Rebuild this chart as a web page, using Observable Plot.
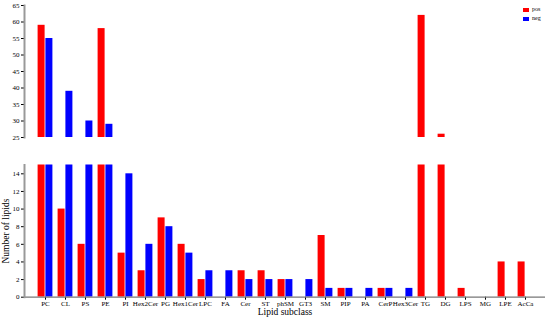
<!DOCTYPE html>
<html><head><meta charset="utf-8">
<script src="https://cdn.jsdelivr.net/npm/d3@7"></script>
<script src="https://cdn.jsdelivr.net/npm/@observablehq/plot@0.6"></script>
<style>
body{margin:0;background:#fff;font-family:"Liberation Serif","Times New Roman",serif;}
#wrap{position:relative;width:550px;height:323px;overflow:hidden;}
#top,#bot{position:absolute;left:0;}
#top{top:0}
#bot{top:140px}
#legend{position:absolute;left:523px;top:5px;font-size:6px;line-height:9px;color:#000;}
#legend .sw{display:inline-block;width:6px;height:4px;margin-right:3px;vertical-align:middle;}
svg g[aria-label="x-axis label"] text, svg g[aria-label="y-axis label"] text{font-size:9.5px;}
</style>
</head><body>
<div id="wrap"><div id="top"></div><div id="bot"></div>
<div id="legend"><div><span class="sw" style="background:#ff0000"></span>pos</div><div><span class="sw" style="background:#0000ff"></span>neg</div></div>
</div>
<script>
const categories = ["PC","CL","PS","PE","PI","Hex2Cer","PG","Hex1Cer","LPC","FA","Cer","ST","phSM","GT3","SM","PIP","PA","CerP","Hex3Cer","TG","DG","LPS","MG","LPE","AcCa"];
const posValues = [59,10,6,58,5,3,9,6,2,0,3,3,2,0,7,1,0,1,0,62,26,1,0,4,4];
const negValues = [55,39,30,29,14,6,8,5,3,3,2,2,2,2,1,1,1,1,1,0,0,0,0,0,0];
const topTicks = [25,30,35,40,45,50,55,60,65];
const bottomTicks = [0,2,4,6,8,10,12,14];
const seriesNames = ["pos","neg"];
const seriesColors = ["#ff0000","#0000ff"];

const posRows = categories.map((c,i)=>({cat:c, value:posValues[i]})).filter(d=>d.value>0);
const negRows = categories.map((c,i)=>({cat:c, value:negValues[i]})).filter(d=>d.value>0);

const W = 550;
const xOpts = {domain: categories, paddingInner: 0, paddingOuter: 0.233};
const axisColor = "#999";
const font = "Liberation Serif, Times New Roman, serif";

const topPlot = Plot.plot({
  width: W, height: 145,
  marginLeft: 24, marginRight: 5, marginTop: 5, marginBottom: 8,
  style: {fontFamily: font, fontSize: "7px", background: "transparent", overflow: "visible"},
  x: {...xOpts, axis: null},
  y: {domain: [25,65], ticks: topTicks, tickSize: 3, tickPadding: 2, label: null},
  marks: [
    Plot.barY(posRows.filter(d=>d.value>25), {x:"cat", y1:()=>25, y2:"value", fill: seriesColors[0], insetLeft:2.6, insetRight:10.4}),
    Plot.barY(negRows.filter(d=>d.value>25), {x:"cat", y1:()=>25, y2:"value", fill: seriesColors[1], insetLeft:10.4, insetRight:2.6}),
    Plot.frame({anchor: "left", stroke: axisColor, strokeWidth: 2})
  ]
});

const botPlot = Plot.plot({
  width: W, height: 183,
  marginLeft: 24, marginRight: 5, marginTop: 24.5, marginBottom: 26.3,
  style: {fontFamily: font, fontSize: "7px", background: "transparent", overflow: "visible"},
  x: {...xOpts, tickSize: 3, tickPadding: 1, label: "Lipid subclass", labelAnchor: "center", labelOffset: 18, labelArrow: "none"},
  y: {domain: [0,15], ticks: bottomTicks, tickSize: 3, tickPadding: 2, label: "Number of lipids", labelAnchor: "center", labelOffset: 22, labelArrow: "none"},
  marks: [
    Plot.barY(posRows, {x:"cat", y:"value", fill: seriesColors[0], insetLeft:2.6, insetRight:10.4, clip: true}),
    Plot.barY(negRows, {x:"cat", y:"value", fill: seriesColors[1], insetLeft:10.4, insetRight:2.6, clip: true}),
    Plot.ruleY([0], {stroke: "#777", strokeWidth: 1.2}),
    Plot.frame({anchor: "left", stroke: axisColor, strokeWidth: 2})
  ]
});

document.getElementById("top").appendChild(topPlot);
document.getElementById("bot").appendChild(botPlot);
</script>
</body></html>
